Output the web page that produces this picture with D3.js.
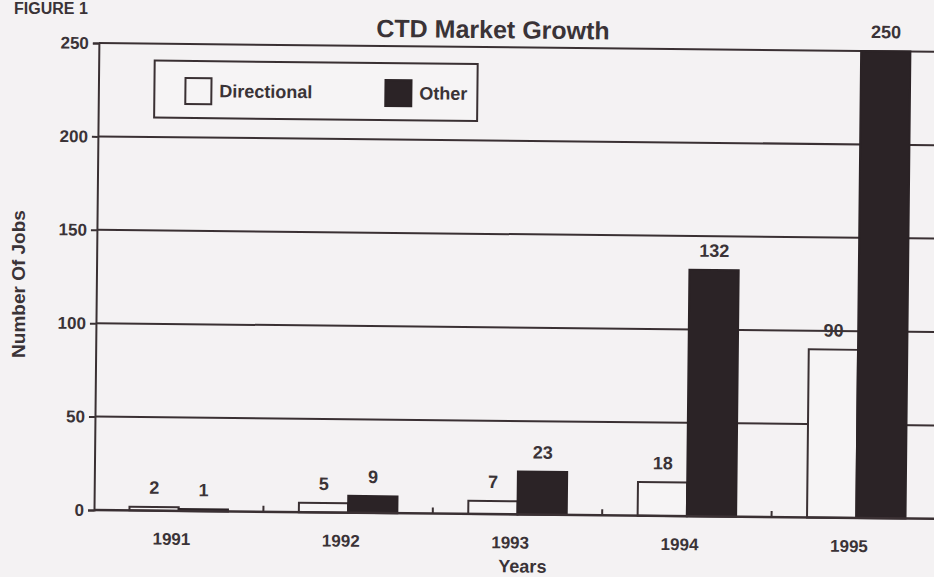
<!DOCTYPE html>
<html>
<head>
<meta charset="utf-8">
<script src="https://cdn.jsdelivr.net/npm/d3@7/dist/d3.min.js"></script>
<style>
  html, body { margin: 0; padding: 0; background: #f4f2f3; }
  svg { display: block; }
  text { font-family: "Liberation Sans", Arial, Helvetica, sans-serif; font-weight: bold; fill: #3a3337; }
</style>
</head>
<body>
<svg id="chart" width="934" height="577"></svg>
<script>
const years = ["1991", "1992", "1993", "1994", "1995"];
const seriesNames = ["Directional", "Other"];
const directional = [2, 5, 7, 18, 90];
const other = [1, 9, 23, 132, 250];
const yTicks = [0, 50, 100, 150, 200, 250];

const W = 934, H = 577;
const ink = "#3a3033", dark = "#2b2326";
const m = { left: 94, top: 43, right: 941, bottom: 510 };

const svg = d3.select("#chart");
svg.append("rect").attr("width", W).attr("height", H).attr("fill", "#f4f2f3");

// figure label
svg.append("text").attr("x", 14).attr("y", 14).attr("font-size", 16).text("FIGURE 1");

const g = svg.append("g").attr("transform", `rotate(0.6, ${m.left}, ${m.bottom})`);

const x0 = d3.scaleBand().domain(years).range([m.left, m.right]);
const x1 = d3.scaleBand().domain(seriesNames).range([0, x0.bandwidth()]).paddingOuter(0.72);
const y = d3.scaleLinear().domain([0, 250]).range([m.bottom, m.top]);

// gridlines
g.append("g").selectAll("line").data(yTicks.filter(d => d > 0)).join("line")
  .attr("x1", m.left).attr("x2", m.right)
  .attr("y1", d => y(d)).attr("y2", d => y(d))
  .attr("stroke", ink).attr("stroke-width", 2);

// y axis
const yAxis = g.append("g").attr("transform", `translate(${m.left},0)`)
  .call(d3.axisLeft(y).tickValues(yTicks).tickSize(6).tickPadding(4));
yAxis.select(".domain").attr("stroke", ink).attr("stroke-width", 2);
yAxis.selectAll(".tick line").attr("stroke", ink).attr("stroke-width", 2);
yAxis.selectAll(".tick text").attr("font-size", 17).attr("font-family", "Liberation Sans, Arial, sans-serif")
  .attr("font-weight", "bold").attr("fill", "#3a3337");

// bars
const data = years.map((yr, i) => ({ year: yr, values: [
  { key: "Directional", v: directional[i] }, { key: "Other", v: other[i] } ] }));

const groups = g.append("g").selectAll("g").data(data).join("g")
  .attr("transform", d => `translate(${x0(d.year)},0)`);

groups.selectAll("rect").data(d => d.values).join("rect")
  .attr("x", d => x1(d.key))
  .attr("width", x1.bandwidth())
  .attr("y", d => y(d.v))
  .attr("height", d => y(0) - y(d.v))
  .attr("fill", d => d.key === "Other" ? dark : "#f6f4f5")
  .attr("stroke", d => d.key === "Other" ? dark : ink)
  .attr("stroke-width", 2);

groups.selectAll("text.val").data(d => d.values).join("text")
  .attr("class", "val")
  .attr("x", d => x1(d.key) + x1.bandwidth() / 2)
  .attr("y", d => y(d.v) - 13)
  .attr("text-anchor", "middle").attr("font-size", 18)
  .text(d => d.v);

// x baseline and ticks
g.append("line").attr("x1", m.left).attr("x2", m.right).attr("y1", y(0)).attr("y2", y(0))
  .attr("stroke", ink).attr("stroke-width", 2.5);
g.append("g").selectAll("line").data(years.slice(1)).join("line")
  .attr("x1", d => x0(d)).attr("x2", d => x0(d))
  .attr("y1", y(0)).attr("y2", y(0) - 6)
  .attr("stroke", ink).attr("stroke-width", 2);

// year labels
g.append("g").selectAll("text").data(years).join("text")
  .attr("x", d => x0(d) + x0.bandwidth() / 2 - 7)
  .attr("y", 544).attr("text-anchor", "middle").attr("font-size", 17)
  .text(d => d);

// titles
g.append("text").attr("x", 488).attr("y", 34).attr("text-anchor", "middle")
  .attr("font-size", 25).text("CTD Market Growth");
g.append("text").attr("x", 523).attr("y", 568).attr("text-anchor", "middle")
  .attr("font-size", 18).text("Years");
svg.append("text").attr("transform", "translate(25,284) rotate(-90)")
  .attr("text-anchor", "middle").attr("font-size", 19).text("Number Of Jobs");

// legend
const lg = g.append("g");
lg.append("rect").attr("x", 150).attr("y", 60).attr("width", 323).attr("height", 57)
  .attr("fill", "#f6f4f5").attr("stroke", ink).attr("stroke-width", 2);
const items = [{ key: "Directional", x: 181 }, { key: "Other", x: 381 }];
items.forEach(it => {
  lg.append("rect").attr("x", it.x).attr("y", 77).attr("width", 26).attr("height", 26)
    .attr("fill", it.key === "Other" ? dark : "#f6f4f5")
    .attr("stroke", it.key === "Other" ? dark : ink).attr("stroke-width", 2);
  lg.append("text").attr("x", it.x + 34).attr("y", 96).attr("font-size", 18).text(it.key);
});
</script>
</body>
</html>
